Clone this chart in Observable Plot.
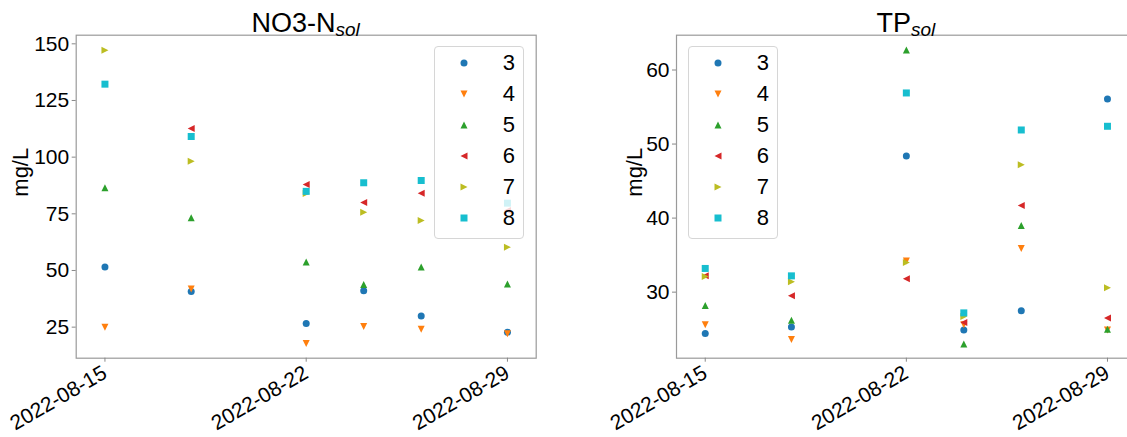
<!DOCTYPE html>
<html>
<head>
<meta charset="utf-8">
<script src="https://cdn.jsdelivr.net/npm/d3@7"></script>
<script src="https://cdn.jsdelivr.net/npm/@observablehq/plot@0.6"></script>
<style>
html, body { margin: 0; padding: 0; background: #fff; overflow: hidden; }
#wrap { position: relative; width: 1136px; height: 437px; font-family: "Liberation Sans", Arial, sans-serif; }
.panel { position: absolute; top: 0; height: 437px; }
.legend { position: absolute; background: rgba(255,255,255,0.8); border: 1px solid #d6d6d6; border-radius: 4px; box-sizing: border-box; }
.legend .row { position: absolute; left: 0; width: 100%; height: 30px; }
.legend .row svg { position: absolute; overflow: visible; }
.legend .row span { position: absolute; font-size: 22px; line-height: 30px; top: 0; color: #000; }
</style>
</head>
<body>
<div id="wrap"></div>
<script>
// ---- data ----
const dates = ["2022-08-15", "2022-08-18", "2022-08-22", "2022-08-24", "2022-08-26", "2022-08-29"];
const seriesNames = ["3", "4", "5", "6", "7", "8"];
const colors = ["#1f77b4", "#ff7f0e", "#2ca02c", "#d62728", "#bcbd22", "#17becf"];
const xTickDates = ["2022-08-15", "2022-08-22", "2022-08-29"];

// NO3-N_sol (mg/L)
const no3S3 = [51.5, 40.7, 26.6, 41.1, 29.9, 22.8];
const no3S4 = [24.9, 41.8, 17.8, 25.3, 24.1, 22.1];
const no3S5 = [86.5, 73.3, 53.7, 43.8, 51.5, 44.0];
const no3S6 = [null, 112.6, 87.9, 80.0, 84.1, 76.5];
const no3S7 = [147.2, 98.2, 84.0, 75.7, 72.1, 60.3];
const no3S8 = [132.2, 109.1, 84.9, 88.7, 89.7, 79.7];
const no3Ticks = [25, 50, 75, 100, 125, 150];

// TP_sol (mg/L)
const tpS3 = [24.4, 25.3, 48.4, 24.9, 27.5, 56.1];
const tpS4 = [25.6, 23.6, 34.2, 25.6, 35.9, 24.9];
const tpS5 = [28.2, 26.2, 62.7, 23.0, 39.0, 25.0];
const tpS6 = [32.2, 29.5, 31.8, 25.9, 41.7, 26.5];
const tpS7 = [32.1, 31.4, 34.0, 26.7, 47.2, 30.6];
const tpS8 = [33.2, 32.2, 56.9, 27.2, 51.9, 52.4];
const tpTicks = [30, 40, 50, 60];

// ---- marker shapes (matplotlib-like) ----
const rOf = (size) => Math.sqrt(size / Math.PI);
const symCircle = { draw(c, s) { const h = rOf(s); c.moveTo(h, 0); c.arc(0, 0, h, 0, 2 * Math.PI); } };
const symDown = { draw(c, s) { const h = rOf(s); c.moveTo(0, h); c.lineTo(-h, -h); c.lineTo(h, -h); c.closePath(); } };
const symUp = { draw(c, s) { const h = rOf(s); c.moveTo(0, -h); c.lineTo(-h, h); c.lineTo(h, h); c.closePath(); } };
const symLeft = { draw(c, s) { const h = rOf(s); c.moveTo(-h, 0); c.lineTo(h, -h); c.lineTo(h, h); c.closePath(); } };
const symRight = { draw(c, s) { const h = rOf(s); c.moveTo(h, 0); c.lineTo(-h, -h); c.lineTo(-h, h); c.closePath(); } };
const symSquare = { draw(c, s) { const h = rOf(s); c.rect(-h, -h, 2 * h, 2 * h); } };
const symbols = [symCircle, symDown, symUp, symLeft, symRight, symSquare];
const R = 3.5;

const fmt = d3.utcFormat("%Y-%m-%d");
const FONT = "'Liberation Sans', Arial, sans-serif";

function rowsFor(arrays) {
  const out = [];
  arrays.forEach((arr, i) => arr.forEach((v, j) => {
    if (v != null) out.push({ date: new Date(dates[j]), series: seriesNames[i], value: v });
  }));
  return out;
}

function makePanel(cfg) {
  const rows = rowsFor(cfg.arrays);
  const marks = [
    Plot.frame({ stroke: "#9a9a9a", strokeWidth: 1.2 }),
    Plot.axisY({ ticks: cfg.yTicks, tickSize: 4, tickPadding: 3, stroke: "#888", color: "#000", fontSize: 21, label: null }),
    Plot.axisX({ ticks: xTickDates.map(d => new Date(d)), tickFormat: fmt, tickRotate: -30, tickSize: 4, tickPadding: 9, stroke: "#888", color: "#000", fontSize: 21, label: null }),
    Plot.text(["mg/L"], { frameAnchor: "left", text: d => d, rotate: -90, dx: cfg.labelDx, fontSize: 22, fill: "#000" })
  ];
  seriesNames.forEach((s, i) => {
    marks.push(Plot.dot(rows.filter(d => d.series === s), {
      x: "date", y: "value", fill: colors[i], stroke: "none", r: R, symbol: symbols[i]
    }));
  });
  const svg = Plot.plot({
    width: cfg.width, height: 437,
    marginLeft: cfg.marginLeft, marginRight: cfg.marginRight, marginTop: 34.7, marginBottom: 79.3,
    style: { fontFamily: FONT, fontSize: "21px", color: "#000", background: "transparent", maxWidth: "none" },
    x: { type: "utc", domain: [new Date("2022-08-14"), new Date("2022-08-30")] },
    y: { domain: cfg.yDomain },
    marks
  });
  // title with italic subscript
  const t = d3.select(svg).append("text")
    .attr("x", cfg.titleX).attr("y", 32)
    .attr("text-anchor", "middle")
    .attr("font-family", FONT).attr("fill", "#000");
  t.append("tspan").attr("font-size", 27).text(cfg.title);
  t.append("tspan").attr("font-size", 19).attr("font-style", "italic").attr("dy", 4).text("sol");

  const div = document.createElement("div");
  div.className = "panel";
  div.style.left = cfg.left + "px";
  div.style.width = cfg.width + "px";
  div.appendChild(svg);

  // legend
  const lg = document.createElement("div");
  lg.className = "legend";
  lg.style.left = cfg.legendLeft + "px";
  lg.style.top = "46px";
  lg.style.width = "90px";
  lg.style.height = "193px";
  seriesNames.forEach((s, i) => {
    const row = document.createElement("div");
    row.className = "row";
    row.style.top = (16.7 + i * 31.1 - 15 - 1) + "px";
    const path = d3.symbol(symbols[i], R * R * Math.PI)();
    row.innerHTML = `<svg width="10" height="10" style="left:${30.3 - 5 - 1}px;top:10px"><path transform="translate(5,5)" d="${path}" fill="${colors[i]}"></path></svg>` +
      `<span style="right:${90 - 81.3 - 1}px">${s}</span>`;
    lg.appendChild(row);
  });
  div.appendChild(lg);
  document.getElementById("wrap").appendChild(div);
}

makePanel({
  arrays: [no3S3, no3S4, no3S5, no3S6, no3S7, no3S8],
  yDomain: [11.3, 153.8], yTicks: no3Ticks,
  width: 560, left: 0, marginLeft: 75.7, marginRight: 24.3,
  labelDx: -55, title: "NO3-N", titleX: 305.7, legendLeft: 433.7
});
makePanel({
  arrays: [tpS3, tpS4, tpS5, tpS6, tpS7, tpS8],
  yDomain: [21.08, 64.7], yTicks: tpTicks,
  width: 576, left: 560, marginLeft: 116, marginRight: 0.3,
  labelDx: -42, title: "TP", titleX: 345.9, legendLeft: 127.7
});
</script>
</body>
</html>
